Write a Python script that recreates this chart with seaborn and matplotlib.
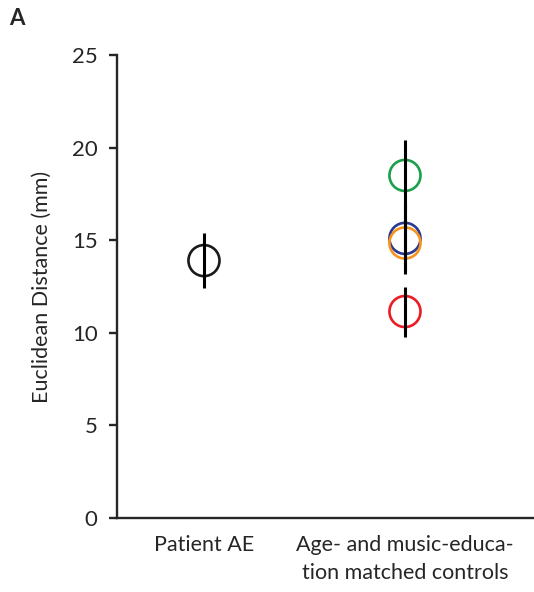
import matplotlib
matplotlib.use("Agg")
import matplotlib.pyplot as plt
import seaborn as sns
import pandas as pd

# data
groups = ["Patient AE", "Age- and music-educa-\ntion matched controls"]
subjects = ["AE", "C1", "C2", "C3", "C4"]
group_of = [0, 1, 1, 1, 1]
distance = [13.9, 18.5, 15.1, 14.85, 11.15]
err = [1.5, 1.9, 1.9, 1.5, 1.35]
colors = ["#1a1a1a", "#1aa04a", "#2b3990", "#f7941d", "#ed1c24"]

sns.set_style("ticks")
plt.rcParams["font.family"] = ["Lato", "DejaVu Sans"]

df = pd.DataFrame({"subject": subjects, "x": group_of, "dist": distance, "err": err})

fig = plt.figure(figsize=(5.34, 5.92), dpi=100)
ax = fig.add_axes([0.219, 0.125, 0.781, 0.782])

sns.scatterplot(data=df, x="x", y="dist", hue="subject", palette=colors,
                s=500, marker="o", linewidth=1.9, legend=False, ax=ax, zorder=2)
pts = ax.collections[0]
pts.set_edgecolors(pts.get_facecolors())
pts.set_facecolors("none")

ax.errorbar(df["x"], df["dist"], yerr=df["err"], fmt="none", ecolor="black",
            elinewidth=2.2, capsize=0, zorder=3)

ax.set_xlim(-0.433, 1.642)
ax.set_ylim(0, 25)
ax.set_yticks([0, 5, 10, 15, 20, 25])
ax.set_xticks([0, 1])
ax.set_xticklabels(groups, fontsize=15.5, linespacing=1.55)
ax.tick_params(axis="x", length=0, pad=12)
ax.tick_params(axis="y", length=6, width=1.7, labelsize=16, pad=8)
ax.set_xlabel("")
ax.set_ylabel("Euclidean Distance (mm)", fontsize=15.5, labelpad=14)
for s in ["left", "bottom"]:
    ax.spines[s].set_linewidth(1.7)
sns.despine(ax=ax)

fig.text(0.017, 0.958, "A", fontsize=16, fontweight="bold")

fig.savefig("out.png", dpi=100)
